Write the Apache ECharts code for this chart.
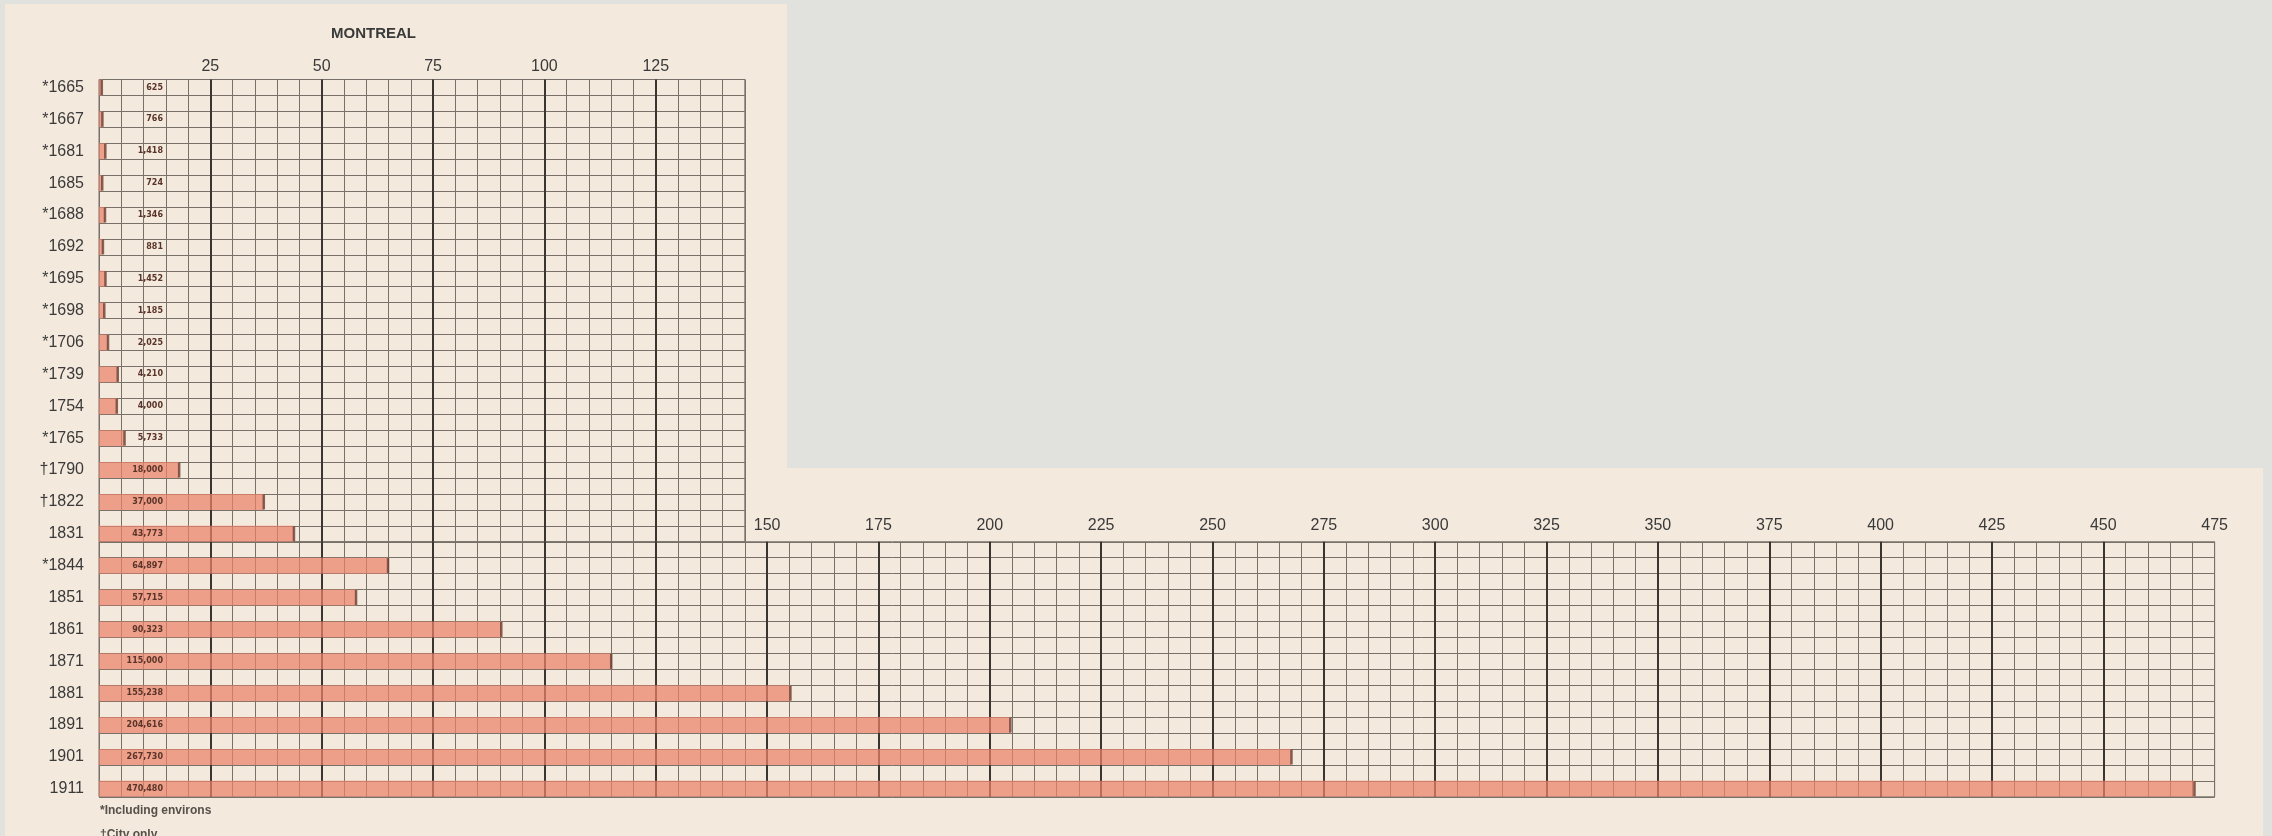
<!DOCTYPE html>
<html>
<head>
<meta charset="utf-8">
<title>Montreal</title>
<script src="https://cdn.jsdelivr.net/npm/echarts@6.0.0/dist/echarts.min.js"></script>
<style>
  html, body { margin: 0; padding: 0; background: #e1e2dd; }
  #chart { width: 2272px; height: 836px; }
</style>
</head>
<body>
<div id="chart"></div>
<script>
// census years as printed (* including environs, † city only)
const yearLabels = ['*1665', '*1667', '*1681', '1685', '*1688', '1692', '*1695', '*1698', '*1706',
  '*1739', '1754', '*1765', '\u20201790', '\u20201822', '1831', '*1844', '1851', '1861', '1871',
  '1881', '1891', '1901', '1911']
const population = [625, 766, 1418, 724, 1346, 881, 1452, 1185, 2025,
  4210, 4000, 5733, 18000, 37000, 43773, 64897, 57715, 90323, 115000,
  155238, 204616, 267730, 470480]
const upperCount = 15        // rows drawn in the narrow upper panel
const upperMax = 145         // thousands
const lowerMax = 475

// layout (px)
const LEFT = 99
const TOP = 79.5
const ROW = 15.94            // half a row: bar, then a gap
const PX = 4.454             // px per thousand

// each bar sits in its own half-row with an empty half-row between bars
const catsA = [], valsA = [], catsB = [], valsB = []
yearLabels.forEach((y, i) => {
  const v = population[i] / 1000
  if (i < upperCount) {
    catsA.push(y); valsA.push(v)
    if (i < upperCount - 1) { catsA.push('-' + i); valsA.push(null) }
  } else {
    catsB.push('-' + i); valsB.push(null)
    catsB.push(y); valsB.push(v)
  }
})
const endsA = valsA.map((v, i) => v == null ? null : [v, i]).filter(Boolean)
const endsB = valsB.map((v, i) => v == null ? null : [v, i]).filter(Boolean)

const heightA = catsA.length * ROW
const heightB = catsB.length * ROW

const lineMinor = '#77716a'
const lineMajor = '#3a3530'
const font = 'Liberation Sans'

function minorAxis(grid, max) {
  return {
    type: 'value', gridIndex: grid, min: 0, max: max, interval: 5, position: 'top',
    axisLabel: { show: false }, axisTick: { show: false }, axisLine: { show: false },
    splitLine: { show: true, lineStyle: { color: lineMinor, width: 1 } }
  }
}
function majorAxis(grid, max, fmt, margin) {
  return {
    type: 'value', gridIndex: grid, min: 0, max: max, interval: 25, position: 'top',
    axisTick: { show: false }, axisLine: { show: false },
    axisLabel: { formatter: fmt, margin: margin, fontSize: 16, color: '#3a3a3a', fontFamily: font },
    splitLine: { show: true, showMinLine: false, showMaxLine: false, lineStyle: { color: lineMajor, width: 2 } }
  }
}
function yearAxis(grid, cats) {
  return {
    type: 'category', gridIndex: grid, data: cats, inverse: true,
    axisTick: { show: false }, axisLine: { show: false },
    axisLabel: {
      interval: 0, margin: 15, fontSize: 16, color: '#3a3a3a', fontFamily: font,
      formatter: v => v.startsWith('-') ? '' : v
    },
    splitLine: { show: true, interval: 0, lineStyle: { color: lineMinor, width: 1 } }
  }
}
const barLabel = {
  show: true,
  position: [64, '50%'],
  align: 'right',
  verticalAlign: 'middle',
  fontSize: 8,
  fontWeight: 'bold',
  fontFamily: 'DejaVu Sans',
  color: '#5a3428',
  formatter: p => Math.round(p.value * 1000).toLocaleString('en-US')
}
function bars(x, y, data) {
  return {
    type: 'bar', xAxisIndex: x, yAxisIndex: y, data: data, barWidth: '100%',
    itemStyle: { color: 'rgba(234,130,106,0.72)' },
    label: barLabel, silent: true
  }
}
function ends(x, y, data) {
  return {
    type: 'scatter', xAxisIndex: x, yAxisIndex: y, data: data, symbol: 'rect',
    symbolSize: [2.5, 15], itemStyle: { color: '#6b3f33' }, z: 3, silent: true
  }
}

const chart = echarts.init(document.getElementById('chart'))
chart.setOption({
  animation: false,
  textStyle: { fontFamily: font },
  title: {
    text: 'MONTREAL', left: 326, top: 21,
    textStyle: { fontSize: 15, fontWeight: 'bold', color: '#3a3a3a', fontFamily: font }
  },
  graphic: [
    { type: 'rect', z: -100, shape: { x: 5, y: 4, width: 782, height: 832 }, style: { fill: '#f3e9dd' } },
    { type: 'rect', z: -100, shape: { x: 787, y: 468, width: 1476, height: 368 }, style: { fill: '#f3e9dd' } },
    { type: 'text', left: 100, top: 805, style: { text: '*Including environs', fontSize: 12, fontWeight: 'bold', fill: '#55504a', fontFamily: font } },
    { type: 'text', left: 100, top: 829, style: { text: '\u2020City only', fontSize: 12, fontWeight: 'bold', fill: '#55504a', fontFamily: font } }
  ],
  grid: [
    { left: LEFT, top: TOP, width: upperMax * PX, height: heightA,
      show: true, borderColor: lineMinor, borderWidth: 1 },
    { left: LEFT, top: TOP + heightA, width: lowerMax * PX, height: heightB,
      show: true, borderColor: lineMinor, borderWidth: 1 }
  ],
  xAxis: [
    minorAxis(0, upperMax),
    majorAxis(0, upperMax, v => (v > 0 && v < upperMax) ? String(v) : '', 5),
    minorAxis(1, lowerMax),
    majorAxis(1, lowerMax, v => v > upperMax ? String(v) : '', 8)
  ],
  yAxis: [yearAxis(0, catsA), yearAxis(1, catsB)],
  series: [
    bars(0, 0, valsA), ends(0, 0, endsA),
    bars(2, 1, valsB), ends(2, 1, endsB)
  ]
})
</script>
</body>
</html>
